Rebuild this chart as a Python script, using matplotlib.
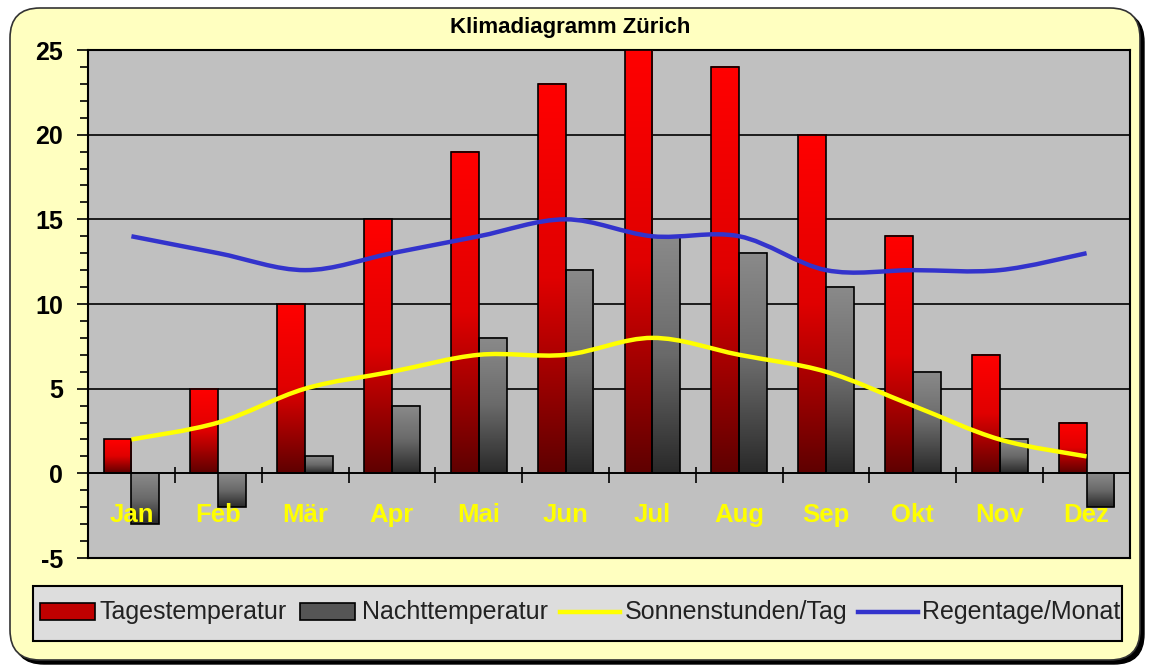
import numpy as np
import matplotlib
matplotlib.use("Agg")
import matplotlib.pyplot as plt
from matplotlib.patches import FancyBboxPatch, Rectangle
from matplotlib.path import Path
from matplotlib.patches import PathPatch
from matplotlib.lines import Line2D
from matplotlib.colors import LinearSegmentedColormap
from matplotlib.ticker import MultipleLocator

# ---------------- data ----------------
months = ["Jan", "Feb", "Mär", "Apr", "Mai", "Jun", "Jul", "Aug", "Sep", "Okt", "Nov", "Dez"]
tagestemp = [2, 5, 10, 15, 19, 23, 25, 24, 20, 14, 7, 3]
nachttemp = [-3, -2, 1, 4, 8, 12, 14, 13, 11, 6, 2, -2]
sonnenstunden = [2, 3, 5, 6, 7, 7, 8, 7, 6, 4, 2, 1]
regentage = [14, 13, 12, 13, 14, 15, 14, 14, 12, 12, 12, 13]
series_names = ["Tagestemperatur", "Nachttemperatur", "Sonnenstunden/Tag", "Regentage/Monat"]
title = "Klimadiagramm Zürich"

plt.rcParams['font.family'] = ['Liberation Sans', 'DejaVu Sans']
plt.rcParams['axes.unicode_minus'] = False

W, H = 1153, 668
fig = plt.figure(figsize=(W / 100, H / 100), dpi=100)
fig.patch.set_facecolor("white")

def fx(x):
    return x / W

def fy(y):
    return 1 - y / H

# background rounded yellow panel with shadow
shadow = FancyBboxPatch((0.14, 0.04), 11.30, 6.52, boxstyle="round,pad=0,rounding_size=0.3",
                        transform=fig.dpi_scale_trans, facecolor="black", edgecolor="black",
                        zorder=-20)
panel = FancyBboxPatch((0.10, 0.08), 11.30, 6.52, boxstyle="round,pad=0,rounding_size=0.3",
                       transform=fig.dpi_scale_trans, facecolor="#FFFFC0", edgecolor="#333333",
                       linewidth=1.2, zorder=-19)
fig.patches.extend([shadow, panel])

ax = fig.add_axes([fx(88), fy(558), fx(1130) - fx(88), fy(50) - fy(558)])
ax.set_facecolor("#C0C0C0")
ax.set_zorder(1)

x = np.arange(len(months))
bw = 0.32
bars_t = ax.bar(x - bw / 2, tagestemp, width=bw, facecolor="none", edgecolor="black",
                linewidth=1.2, zorder=4)
bars_n = ax.bar(x + bw / 2, nachttemp, width=bw, facecolor="none", edgecolor="black",
                linewidth=1.2, zorder=4)

cm_red = LinearSegmentedColormap.from_list("r", ["#FF0000", "#E00000", "#600000"])
cm_grey = LinearSegmentedColormap.from_list("g", ["#8A8A8A", "#6A6A6A", "#2A2A2A"])
grad = np.linspace(0, 1, 64).reshape(-1, 1)
for bars, cm in ((bars_t, cm_red), (bars_n, cm_grey)):
    for r in bars:
        x0 = r.get_x()
        x1 = x0 + r.get_width()
        y0 = r.get_y()
        y1 = y0 + r.get_height()
        top, bot = max(y0, y1), min(y0, y1)
        ax.imshow(grad, cmap=cm, extent=(x0, x1, bot, top), origin="upper",
                  aspect="auto", zorder=3, interpolation="bilinear")

def smooth_path(xs, ys):
    pts = np.column_stack([xs, ys]).astype(float)
    n = len(pts)
    verts = [pts[0]]
    codes = [Path.MOVETO]
    for i in range(n - 1):
        p0 = pts[max(i - 1, 0)]
        p1 = pts[i]
        p2 = pts[i + 1]
        p3 = pts[min(i + 2, n - 1)]
        c1 = p1 + (p2 - p0) / 6.0
        c2 = p2 - (p3 - p1) / 6.0
        verts += [c1, c2, p2]
        codes += [Path.CURVE4] * 3
    return Path(verts, codes)

ax.add_patch(PathPatch(smooth_path(x, sonnenstunden), facecolor="none", edgecolor="#FFFF00",
                       linewidth=3.2, zorder=6, capstyle="butt"))
ax.add_patch(PathPatch(smooth_path(x, regentage), facecolor="none", edgecolor="#3333CC",
                       linewidth=3.2, zorder=6, capstyle="butt"))

ax.set_xlim(-0.5, len(months) - 0.5)
ax.set_ylim(-5, 25)
ax.yaxis.set_major_locator(MultipleLocator(5))
ax.yaxis.set_minor_locator(MultipleLocator(1))
ax.grid(axis="y", which="major", color="black", linewidth=1.2, zorder=2)
ax.set_axisbelow(True)
ax.axhline(0, color="black", linewidth=1.2, zorder=5)
# category boundary ticks crossing the zero line
ax.vlines(np.arange(0.5, len(months) - 0.5, 1.0), -0.55, 0.4, color="black", linewidth=1.2, zorder=5)

ax.set_xticks([])
ax.tick_params(axis="y", which="major", direction="out", length=8, width=1.2, pad=10,
               labelsize=18)
ax.tick_params(axis="y", which="minor", direction="out", length=6, width=1.2)
for lab in ax.get_yticklabels():
    lab.set_fontweight("bold")
for s in ax.spines.values():
    s.set_linewidth(1.5)
    s.set_color("black")

for i, m in enumerate(months):
    ax.text(i, -2.45, m, color="#FFFF00", fontsize=18.5, fontweight="bold",
            ha="center", va="center", zorder=7)

fig.text(fx(570), fy(28), title, fontsize=16, fontweight="bold", ha="center", va="center")

# legend box
leg_box = Rectangle((fx(33), fy(641)), fx(1122) - fx(33), fy(586) - fy(641), transform=fig.transFigure,
                    facecolor="#DDDDDD", edgecolor="black", linewidth=1.5, zorder=2)
fig.patches.append(leg_box)
ly = fy(612)
fig.patches.append(Rectangle((fx(40), fy(620)), fx(55), fy(603) - fy(620), transform=fig.transFigure,
                             facecolor="#C00000", edgecolor="black", linewidth=1.2, zorder=3))
fig.patches.append(Rectangle((fx(300), fy(620)), fx(55), fy(603) - fy(620), transform=fig.transFigure,
                             facecolor="#555555", edgecolor="black", linewidth=1.2, zorder=3))
fig.lines.append(Line2D([fx(560), fx(620)], [ly, ly], transform=fig.transFigure, color="#FFFF00",
                        linewidth=3.2, zorder=3))
fig.lines.append(Line2D([fx(858), fx(918)], [ly, ly], transform=fig.transFigure, color="#3333CC",
                        linewidth=3.2, zorder=3))
for xt, name in zip([100, 362, 625, 922], series_names):
    fig.text(fx(xt), ly, name, fontsize=18, ha="left", va="center", zorder=4, color="#222222")

fig.savefig("out.png", dpi=100, facecolor="white")
